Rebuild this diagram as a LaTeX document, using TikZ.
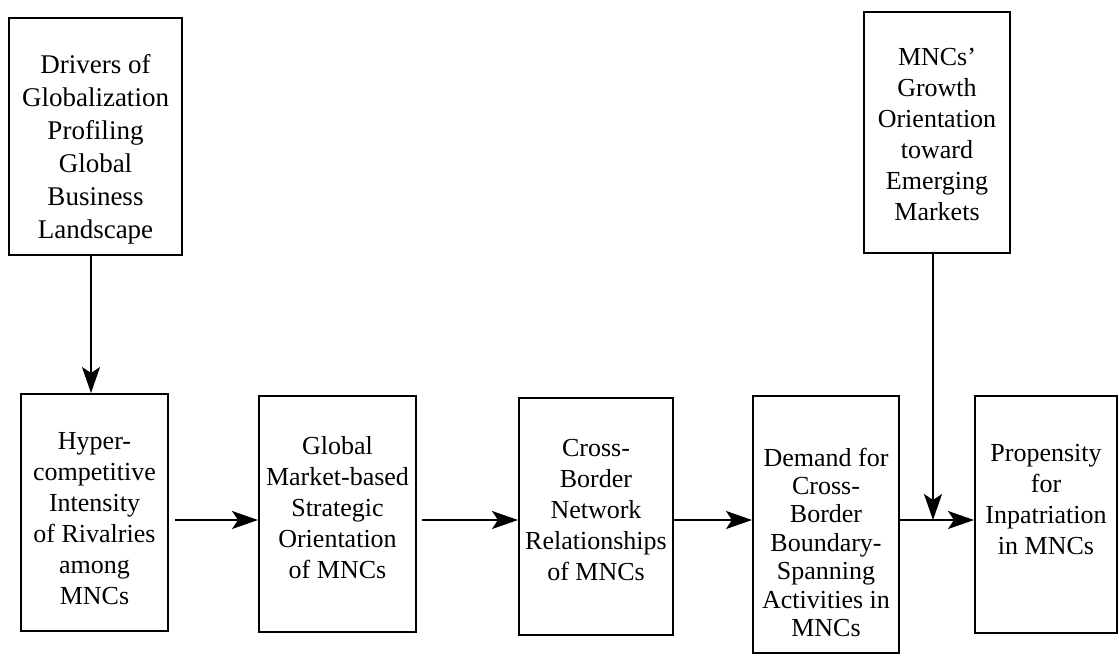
\documentclass[tikz,border=0pt]{standalone}
\usepackage{fontspec}
\setmainfont{Liberation Serif}
\usetikzlibrary{arrows.meta}
\newcommand{\stagetext}[4]{\parbox[c][#1][t]{#2}{\centering\rule{0pt}{#3}#4}}
\tikzset{
  stage/.style={draw, line width=1pt, inner sep=0pt},
  flow/.style={-{Stealth[length=13pt,width=9pt,inset=3pt]}, line width=1.1pt},
}

\begin{document}
\begin{tikzpicture}[x=0.5pt,y=-0.5pt,font=\fontsize{13}{15.5}\selectfont]
  \useasboundingbox (0,0) rectangle (1119,665);
  \coordinate (row) at (0,520);
  % top boxes
  \node[stage,font=\fontsize{13.5}{16.5}\selectfont] (drivers) at (95.5,136.5)
    {\stagetext{118.5pt}{86.5pt}{27.5pt}{Drivers of\\Globalization\\Profiling\\Global\\Business\\Landscape}};
  \node[stage] (growth) at (937,132.5)
    {\stagetext{120.5pt}{73pt}{26.5pt}{MNCs'\\Growth\\Orientation\\toward\\Emerging\\Markets}};
  % chain
  \node[stage] (rivalry) at (94.5,512.5)
    {\stagetext{118.5pt}{73.5pt}{27.5pt}{Hyper-\\competitive\\Intensity\\of Rivalries\\among\\MNCs}};
  \node[stage] (strategy) at (337.5,514)
    {\stagetext{118pt}{78.5pt}{29pt}{Global\\Market-based\\Strategic\\Orientation\\of MNCs}};
  \node[stage] (network) at (596,516.5)
    {\stagetext{118.5pt}{77pt}{29pt}{Cross-\\Border\\Network\\Relationships\\of MNCs}};
  \node[stage,font=\fontsize{13}{14.2}\selectfont] (demand) at (826,524.5)
    {\stagetext{128.5pt}{73pt}{35pt}{Demand for\\Cross-\\Border\\Boundary-\\Spanning\\Activities in\\MNCs}};
  \node[stage] (inpat) at (1046,514.5)
    {\stagetext{118.5pt}{71pt}{32.5pt}{Propensity\\for\\Inpatriation\\in MNCs}};

  \draw[flow] ([xshift=-2.25pt]drivers.south) -- ([xshift=-1.75pt]rivalry.north);
  \draw[flow,shorten <=3pt] (rivalry.east |- row) -- (strategy.west |- row);
  \draw[flow,shorten <=2.5pt] (strategy.east |- row) -- (network.west |- row);
  \draw[flow] (network.east |- row) -- (demand.west |- row);
  \draw[flow] (demand.east |- row) -- (inpat.west |- row);
  \coordinate (drop) at ([xshift=-2pt]growth.south);
  \draw[flow] (drop) -- (drop |- row);
\end{tikzpicture}
\end{document}
